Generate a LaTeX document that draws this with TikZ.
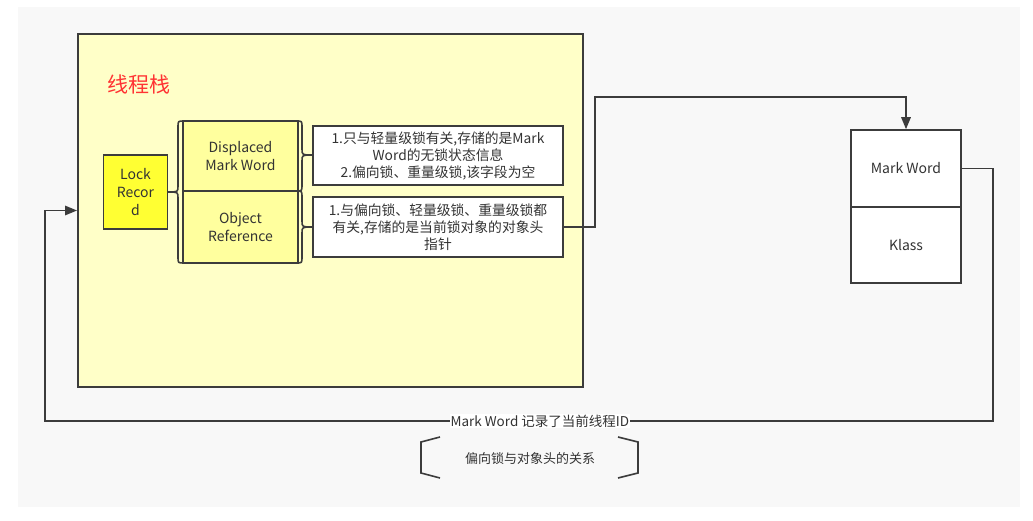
\documentclass[tikz,border=0pt]{standalone}
\usepackage{fontspec}
\setmainfont{Noto Sans CJK SC}
\usetikzlibrary{arrows.meta}
\definecolor{bggray}{HTML}{F8F8F8}
\definecolor{stackyellow}{HTML}{FFFFC8}
\definecolor{lockyellow}{HTML}{FFFF33}
\definecolor{fieldyellow}{HTML}{FFFF9E}
\definecolor{edge}{HTML}{3C3C3C}
\definecolor{txt}{HTML}{333333}
\definecolor{titlered}{HTML}{FF3333}
\tikzset{
  boxbase/.style={draw=edge, line width=1.6pt, inner sep=0pt, align=center, text=txt,
    font=\fontsize{14}{18}\selectfont},
  stackbox/.style={boxbase, fill=stackyellow, line width=2pt},
  lockbox/.style={boxbase, fill=lockyellow, minimum width=64pt, minimum height=74pt},
  fieldbox/.style={boxbase, fill=fieldyellow, minimum width=115pt},
  notebox/.style={boxbase, fill=white, minimum width=250pt, font=\fontsize{13.8}{17}\selectfont},
  hdrbox/.style={boxbase, fill=white, minimum width=110pt},
  brace/.style={draw=edge, line width=1.6pt},
  conn/.style={draw=edge, line width=1.6pt},
  tip/.style={-{Triangle[length=12pt,width=9.5pt]}},
  lbl/.style={fill=white, inner sep=1pt, text=txt, font=\fontsize{13.5}{15}\selectfont},
}
\begin{document}
\begin{tikzpicture}[x=1pt,y=-1pt]
\useasboundingbox (0,0) rectangle (1033,521);
\fill[white] (0,0) rectangle (1033,521);
\fill[bggray] (18,7) rectangle (1020,507);

\node[stackbox, minimum width=505pt, minimum height=353pt] (stack) at (330.5,210.5) {};
\node[text=titlered, font=\fontsize{21}{24}\selectfont, inner sep=0pt] (title) at (139,85) {线程栈};

\node[lockbox] (lock) at (135.5,192) {Lock\\Recor\\d};
\node[fieldbox, minimum height=70pt] (dmw) at (240.5,156) {Displaced\\Mark Word};
\node[fieldbox, minimum height=72pt] (oref) at (240.5,227) {Object\\Reference};
\node[notebox, minimum height=59pt] (n1) at (438,155.5) {1.只与轻量级锁有关,存储的是Mark\\Word的无锁状态信息\\2.偏向锁、重量级锁,该字段为空};
\node[notebox, minimum height=60pt] (n2) at (438,227) {1.与偏向锁、轻量级锁、重量级锁都\\有关,存储的是当前锁对象的对象头\\指针};

\node[hdrbox, minimum height=77pt] (mw) at (906,168.5) {Mark Word};
\node[hdrbox, minimum height=76pt] (klass) at (906,245) {Klass};

% braces
\draw[brace] (184,121) .. controls (178,121) .. (178,127) -- (178,186)
  .. controls (178,192) .. (168,192) .. controls (178,192) .. (178,198)
  -- (178,257) .. controls (178,263) .. (184,263);
\draw[brace] (296,121) .. controls (302,121) .. (302,127) -- (302,149)
  .. controls (302,155) .. (313,155) .. controls (302,155) .. (302,161)
  -- (302,185) .. controls (302,191) .. (296,191);
\draw[brace] (296,191) .. controls (302,191) .. (302,197) -- (302,221)
  .. controls (302,227) .. (313,227) .. controls (302,227) .. (302,233)
  -- (302,257) .. controls (302,263) .. (296,263);

% connectors
\coordinate (c1) at (595,97);
\draw[conn, tip] (n2.east) -- (n2.east -| c1) -- (c1) -| (mw.north);
\coordinate (c2) at (993,421);
\coordinate (c3) at (45,421);
\draw[conn, tip] (mw.east) -| (c2) -- node[lbl, pos=0.478] (lab) {Mark Word 记录了当前线程ID} (c3) |- (stack.west);

% annotation
\node[text=txt, font=\fontsize{13}{15}\selectfont, inner sep=0pt] (rel) at (530,459) {偏向锁与对象头的关系};
\draw[brace] (440,437) -- (421,442) -- (421,473) -- (440,478);
\draw[brace] (618,437) -- (638,442) -- (638,473) -- (618,478);
\end{tikzpicture}
\end{document}
